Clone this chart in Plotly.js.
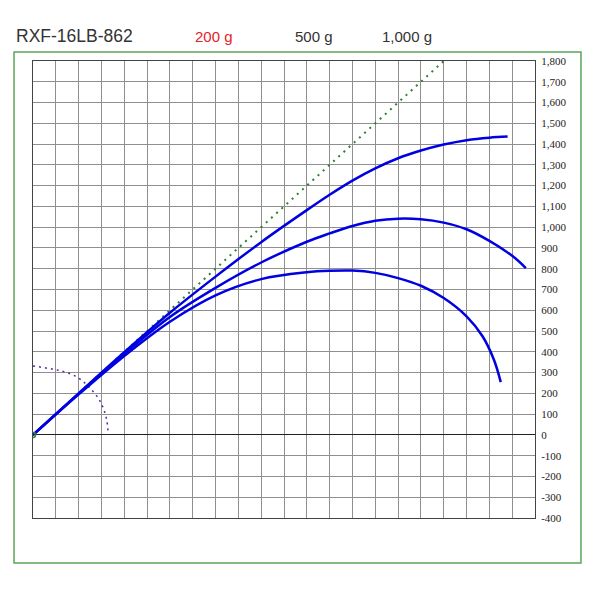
<!DOCTYPE html>
<html>
<head>
<meta charset="utf-8">
<script src="https://cdn.plot.ly/plotly-3.0.1.min.js"></script>
<style>html,body{margin:0;padding:0;background:#fff;}#chart{width:600px;height:600px;}</style>
</head>
<body>
<div id="chart"></div>
<script>
// Curve for 200 g (top)
var x200 = [0, 200, 400, 600, 800, 1000, 1200, 1300, 1400, 1500, 1600, 1700, 1800, 1900, 2000, 2080];
var y200 = [0, 200, 398, 588, 762, 928, 1082, 1156, 1224, 1283, 1332, 1369, 1398, 1419, 1431, 1436];
// Curve for 500 g (middle)
var x500 = [0, 200, 400, 600, 800, 1000, 1200, 1300, 1400, 1500, 1600, 1700, 1800, 1900, 2000, 2100, 2160];
var y500 = [0, 198, 390, 568, 708, 830, 930, 970, 1006, 1031, 1041, 1038, 1022, 990, 934, 862, 803];
// Curve for 1,000 g (bottom)
var x1000 = [0, 200, 400, 600, 800, 1000, 1200, 1300, 1400, 1500, 1600, 1700, 1800, 1900, 1970, 2020, 2050];
var y1000 = [0, 195, 380, 545, 672, 750, 783, 790, 791, 780, 755, 718, 659, 571, 475, 362, 254];
// Dotted reference diagonal
var xDiag = [0, 1800];
var yDiag = [0, 1800];
// Dotted arc near origin
var xArc = [0, 89, 133, 184, 228, 257, 286, 308, 323, 330];
var yArc = [332, 316, 305, 284, 249, 217, 177, 129, 72, 0];
// Axis ticks
var yTickVals = [-400, -300, -200, -100, 0, 100, 200, 300, 400, 500, 600, 700, 800, 900, 1000, 1100, 1200, 1300, 1400, 1500, 1600, 1700, 1800];
var yTickText = ['-400', '-300', '-200', '-100', '0', '100', '200', '300', '400', '500', '600', '700', '800', '900', '1,000', '1,100', '1,200', '1,300', '1,400', '1,500', '1,600', '1,700', '1,800'];
// Header texts
var chartTitle = 'RXF-16LB-862';
var seriesLabels = ['200 g', '500 g', '1,000 g'];

var blue = 'rgb(0,0,225)';
var traces = [
  {x: xDiag, y: yDiag, mode: 'lines', line: {color: '#2e7d32', width: 2, dash: '2px,5px'}, hoverinfo: 'skip'},
  {x: xArc, y: yArc, mode: 'lines', line: {color: '#5b2c9f', width: 1.5, dash: '2px,4px', shape: 'spline'}, hoverinfo: 'skip'},
  {x: x200, y: y200, mode: 'lines', line: {color: blue, width: 2.5, shape: 'spline', smoothing: 1}},
  {x: x500, y: y500, mode: 'lines', line: {color: blue, width: 2.5, shape: 'spline', smoothing: 1}},
  {x: x1000, y: y1000, mode: 'lines', line: {color: blue, width: 2.5, shape: 'spline', smoothing: 1}},
  {x: [0], y: [0], mode: 'markers', marker: {symbol: 'circle-open', color: '#2e8b2e', size: 5, line: {width: 1.5}}}
];

var hdrFamily = 'Liberation Sans, Arial, sans-serif';
var layout = {
  width: 600, height: 600,
  margin: {l: 33, r: 65, t: 61, b: 82, pad: 0},
  paper_bgcolor: '#fff', plot_bgcolor: '#fff',
  showlegend: false,
  xaxis: {
    range: [0, 2200], dtick: 100, tick0: 0,
    showticklabels: false, ticks: '',
    showgrid: true, gridcolor: '#8f8f8f', gridwidth: 1,
    zeroline: false,
    showline: true, mirror: true, linecolor: '#444', linewidth: 1,
    fixedrange: true
  },
  yaxis: {
    range: [-400, 1800], side: 'right',
    tickmode: 'array', tickvals: yTickVals, ticktext: yTickText,
    ticks: '', ticklabelstandoff: 3,
    tickfont: {family: 'Liberation Serif, Times New Roman, serif', size: 11, color: '#222'},
    showgrid: true, gridcolor: '#8f8f8f', gridwidth: 1,
    zeroline: true, zerolinecolor: '#222', zerolinewidth: 1,
    showline: true, mirror: true, linecolor: '#444', linewidth: 1,
    fixedrange: true
  },
  shapes: [
    {type: 'rect', xref: 'paper', yref: 'paper', x0: -0.0378, x1: 1.0916, y0: -0.0985, y1: 1.0197,
     line: {color: '#5aa55a', width: 1.5}, fillcolor: 'rgba(0,0,0,0)', layer: 'below'}
  ],
  annotations: [
    {text: chartTitle, xref: 'paper', yref: 'paper', x: -0.0378, y: 1.0547, xanchor: 'left', yanchor: 'middle', showarrow: false, font: {family: hdrFamily, size: 17.5, color: '#333'}},
    {text: seriesLabels[0], xref: 'paper', yref: 'paper', x: 0.3187, y: 1.0547, xanchor: 'left', yanchor: 'middle', showarrow: false, font: {family: hdrFamily, size: 15, color: '#e8202a'}},
    {text: seriesLabels[1], xref: 'paper', yref: 'paper', x: 0.518, y: 1.0547, xanchor: 'left', yanchor: 'middle', showarrow: false, font: {family: hdrFamily, size: 15, color: '#333'}},
    {text: seriesLabels[2], xref: 'paper', yref: 'paper', x: 0.691, y: 1.0547, xanchor: 'left', yanchor: 'middle', showarrow: false, font: {family: hdrFamily, size: 15, color: '#333'}}
  ]
};

Plotly.newPlot('chart', traces, layout, {displayModeBar: false, staticPlot: true});
</script>
</body>
</html>
